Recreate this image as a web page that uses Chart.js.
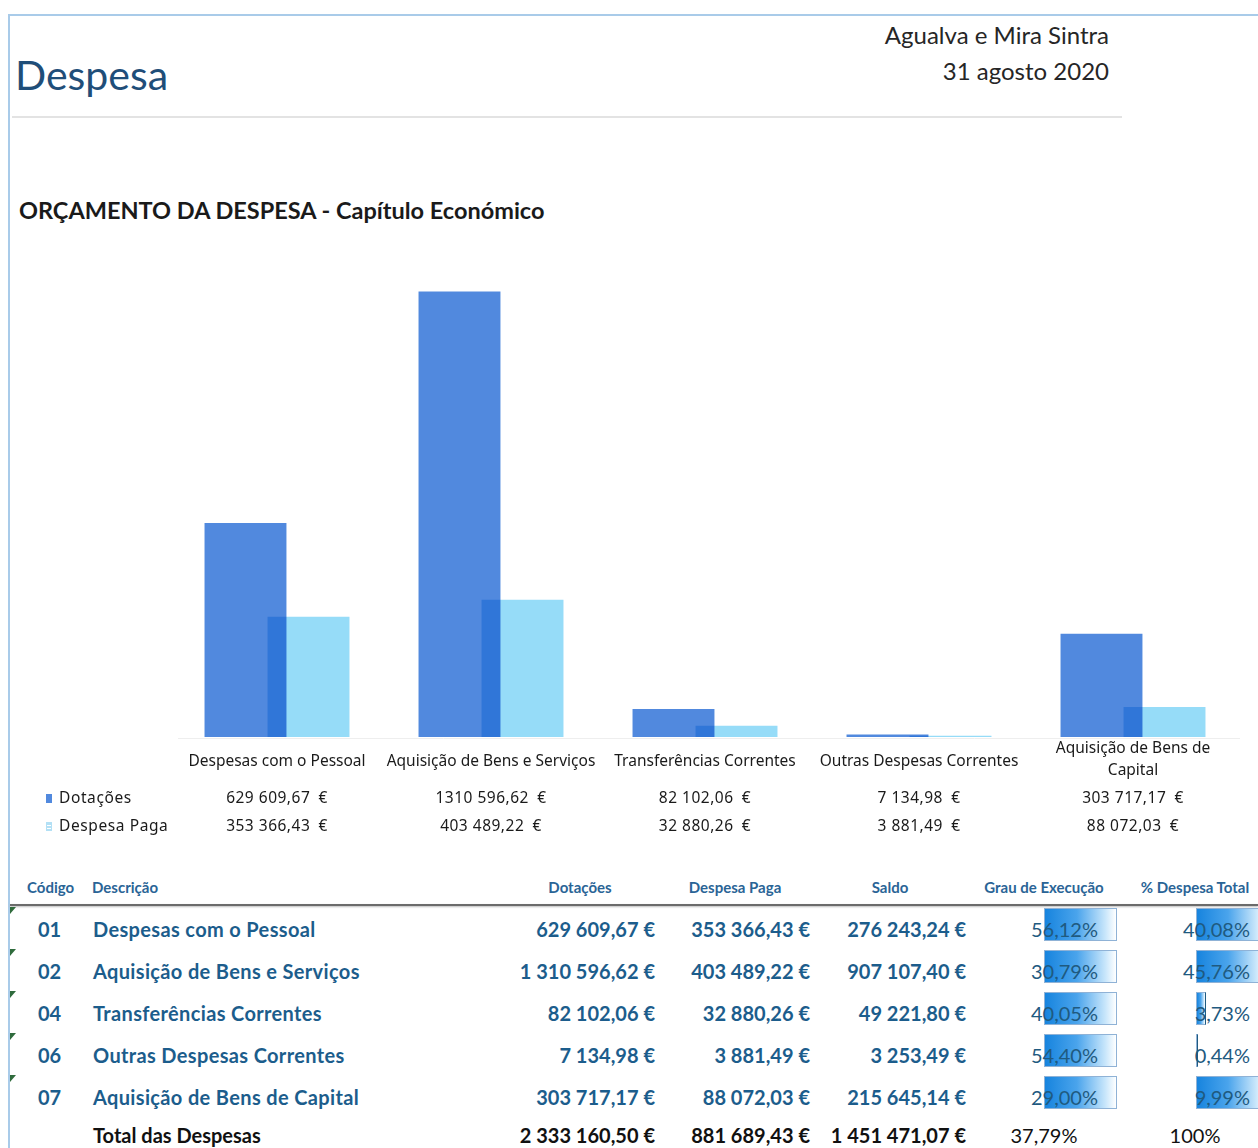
<!DOCTYPE html>
<html lang="pt">
<head>
<meta charset="utf-8">
<title>Despesa - Agualva e Mira Sintra</title>
<script src="https://cdn.jsdelivr.net/npm/chart.js@4.4.1/dist/chart.umd.min.js"></script>
<style>
  html, body { margin:0; padding:0; background:#fff; }
  body { width:1258px; height:1148px; position:relative; overflow:hidden; font-family: Lato, "Noto Sans", sans-serif; }
  .frame-top { position:absolute; left:8px; top:14px; width:1250px; height:2px; background:#a9cbe9; }
  .frame-left { position:absolute; left:8px; top:14px; width:2px; height:1134px; background:#a9cbe9; }
  #title { position:absolute; left:15px; top:50px; font-size:41px; color:#1f4e79; line-height:50px; }
  .place { position:absolute; right:149px; font-size:24px; color:#262626; line-height:30px; }
  .rule { position:absolute; left:12px; top:116px; width:1110px; height:2px; background:#e3e3e3; }
  #subtitle { position:absolute; left:19px; top:194px; font-size:23.5px; font-weight:700; color:#1a1a1a; line-height:32px; }
  #chart { position:absolute; left:0; top:240px; }

  .th { position:absolute; top:876px; font-size:15px; font-weight:700; color:#2a6496; line-height:22px; white-space:nowrap; }
  .th.c { transform:translateX(-50%); }
  .head-line { position:absolute; left:10px; top:904px; width:1248px; height:2px; background:#6b6b6b; box-shadow:0 1px 2px #bbb; }
  .row { position:absolute; left:0; width:1258px; height:42px; line-height:42px; font-size:20px; font-weight:700; color:#1c5d8c; white-space:nowrap; }
  .row.total { color:#111; }
  .row > div { position:absolute; top:0; }
  .code { left:38px; }
  .desc { left:93px; letter-spacing:0.35px; }
  .r { text-align:right; }
  .bar { position:absolute; top:-3px; height:33px; border:1px solid #8fb2d6; box-sizing:border-box;
         background:linear-gradient(to right, #1784de 0%, #4aa4ec 45%, #c8e6fb 85%, #ffffff 100%); }
  .pctTxt { font-weight:400; color:#1f5a80; }
  .flag { position:absolute; left:10px; width:0; height:0; border-top:7px solid #2f6b3c; border-right:6px solid transparent; }
</style>
</head>
<body>
<div class="frame-top"></div>
<div class="frame-left"></div>
<div id="title">Despesa</div>
<div class="place" style="top:20px">Agualva e Mira Sintra</div>
<div class="place" style="top:56px">31 agosto 2020</div>
<div class="rule"></div>
<div id="subtitle">ORÇAMENTO DA DESPESA - Capítulo Económico</div>
<canvas id="chart" width="1258" height="610"></canvas>
<div id="table"></div>

<script>
// chart data
const categories = ['Despesas com o Pessoal', 'Aquisição de Bens e Serviços', 'Transferências Correntes', 'Outras Despesas Correntes', ['Aquisição de Bens de', 'Capital']];
const dotacoes = [629609.67, 1310596.62, 82102.06, 7134.98, 303717.17];
const despesaPaga = [353366.43, 403489.22, 32880.26, 3881.49, 88072.03];
const seriesNames = ['Dotações', 'Despesa Paga'];

// table data
const codes = ['01', '02', '04', '06', '07'];
const descricoes = ['Despesas com o Pessoal', 'Aquisição de Bens e Serviços', 'Transferências Correntes', 'Outras Despesas Correntes', 'Aquisição de Bens de Capital'];
const saldo = [276243.24, 907107.40, 49221.80, 3253.49, 215645.14];
const grauExecucao = [56.12, 30.79, 40.05, 54.40, 29.00];
const pctDespesaTotal = [40.08, 45.76, 3.73, 0.44, 9.99];
const totalLabel = 'Total das Despesas';
const totals = [2333160.50, 881689.43, 1451471.07];
const totalGrau = 37.79;
const totalPct = 100;
const headers = ['Código', 'Descrição', 'Dotações', 'Despesa Paga', 'Saldo', 'Grau de Execução', '% Despesa Total'];

// number formats (pt)
function groupInt(s, full){
  if(!full) return s.length > 3 ? s.slice(0, -3) + ' ' + s.slice(-3) : s;
  return s.replace(/\B(?=(\d{3})+(?!\d))/g, ' ');
}
function eur(v, full, gap){
  const [i, d] = v.toFixed(2).split('.');
  return groupInt(i, full) + ',' + d + (gap || ' ') + '€';
}
function pct(v, dec){ return v.toFixed(dec).replace('.', ',') + '%'; }

const COL = { light:'#5189de', paid:'#96dcf8', text:'#1a1a1a' };

// allocation bars overlap the paid bars; overlap gets the darker Excel look
// (Chart.js draws the last dataset first, so dataset 0 is painted on top)
const multiplyPlugin = {
  id:'multiply',
  beforeDatasetDraw(chart, args){
    if(args.index === 0){ chart.ctx.save(); chart.ctx.globalCompositeOperation = 'multiply'; }
  },
  afterDatasetDraw(chart, args){
    if(args.index === 0) chart.ctx.restore();
  }
};

// data table under the chart (category names, legend keys, values)
const dataTablePlugin = {
  id:'dataTable',
  afterDraw(chart){
    const ctx = chart.ctx, xs = chart.scales.x, area = chart.chartArea;
    ctx.save();
    ctx.strokeStyle = '#eeeeee'; ctx.lineWidth = 1;
    ctx.beginPath(); ctx.moveTo(area.left + 8, area.bottom + 1.5); ctx.lineTo(area.right, area.bottom + 1.5); ctx.stroke();

    ctx.fillStyle = COL.text;
    ctx.textAlign = 'center'; ctx.textBaseline = 'middle';
    const yLab = area.bottom + 25, yRow1 = area.bottom + 62, yRow2 = area.bottom + 90;
    categories.forEach((c, i) => {
      const cx = xs.getPixelForValue(i);
      ctx.font = '15.5px "Noto Sans", sans-serif';
      ctx.letterSpacing = '0px';
      if(Array.isArray(c)){
        ctx.fillText(c[0], cx, yLab - 13);
        ctx.fillText(c[1], cx, yLab + 9);
      } else ctx.fillText(c, cx, yLab);
      ctx.letterSpacing = '0.5px';
      ctx.fillText(eur(dotacoes[i], false, '\u2002'), cx, yRow1);
      ctx.fillText(eur(despesaPaga[i], false, '\u2002'), cx, yRow2);
    });

    // legend keys
    ctx.textAlign = 'left';
    ctx.fillStyle = COL.light; ctx.fillRect(46, yRow1 - 5, 6, 9);
    ctx.fillStyle = '#b3e0f5'; ctx.fillRect(46, yRow2 - 5, 6, 9);
    ctx.fillStyle = '#ffffff'; ctx.fillRect(47, yRow2 - 2, 4, 1); ctx.fillRect(47, yRow2 + 1, 4, 1);
    ctx.fillStyle = COL.text;
    ctx.letterSpacing = '0.6px';
    ctx.fillText(seriesNames[0], 59, yRow1);
    ctx.fillText(seriesNames[1], 59, yRow2);
    ctx.restore();
  }
};

new Chart(document.getElementById('chart'), {
  type:'bar',
  data:{
    labels:categories,
    datasets:[
      { label:seriesNames[0], data:dotacoes, backgroundColor:COL.light, borderWidth:0 },
      { label:seriesNames[1], data:despesaPaga, backgroundColor:COL.paid, borderWidth:0 }
    ]
  },
  options:{
    responsive:false,
    animation:false,
    layout:{ padding:{ left:170, right:18, top:21, bottom:113 } },
    datasets:{ bar:{ categoryPercentage:0.589, barPercentage:1.3 } },
    plugins:{ legend:{ display:false }, tooltip:{ enabled:false } },
    scales:{
      x:{ display:false },
      y:{ display:false, min:0, max:1400000 }
    }
  },
  plugins:[multiplyPlugin, dataTablePlugin]
});

// budget table
const tbl = document.getElementById('table');
const headPos = [['27px', false], ['92px', false], ['580px', true], ['735px', true], ['890px', true], ['1044px', true], ['1195px', true]];
headers.forEach((h, i) => {
  const d = document.createElement('div');
  d.className = 'th' + (headPos[i][1] ? ' c' : '');
  d.style.left = headPos[i][0];
  d.textContent = h;
  tbl.appendChild(d);
});
const line = document.createElement('div'); line.className = 'head-line'; tbl.appendChild(line);

function money(right, v){ return `<div class="r" style="right:${1258 - right}px">${eur(v, true)}</div>`; }

codes.forEach((c, i) => {
  const top = 908 + i * 42;
  const row = document.createElement('div');
  row.className = 'row';
  row.style.top = top + 'px';
  const share = Math.min(1, Math.pow(pctDespesaTotal[i] / 9.99, 2));
  row.innerHTML =
    `<div class="code">${c}</div><div class="desc">${descricoes[i]}</div>` +
    money(655, dotacoes[i]) + money(810, despesaPaga[i]) + money(966, saldo[i]) +
    `<div class="bar" style="left:1044px;width:73px"></div>` +
    `<div class="r pctTxt" style="right:${1258 - 1098}px">${pct(grauExecucao[i], 2)}</div>` +
    `<div class="bar" style="left:1196px;width:${Math.max(2, share * 70)}px;border-right:${share < 1 ? '1px solid #1f5a80' : '0'}"></div>` +
    `<div class="r pctTxt" style="right:8px">${pct(pctDespesaTotal[i], 2)}</div>`;
  tbl.appendChild(row);
  const flag = document.createElement('div');
  flag.className = 'flag'; flag.style.top = (top - 1) + 'px';
  tbl.appendChild(flag);
});

const tot = document.createElement('div');
tot.className = 'row total';
tot.style.top = (908 + 5 * 42 - 4) + 'px';
tot.innerHTML =
  `<div class="desc" style="letter-spacing:0">${totalLabel}</div>` +
  money(655, totals[0]) + money(810, totals[1]) + money(966, totals[2]) +
  `<div style="left:1044px;transform:translateX(-50%);font-weight:400">${pct(totalGrau, 2)}</div>` +
  `<div style="left:1195px;transform:translateX(-50%);font-weight:400">${pct(totalPct, 0)}</div>`;
tbl.appendChild(tot);
</script>
</body>
</html>
